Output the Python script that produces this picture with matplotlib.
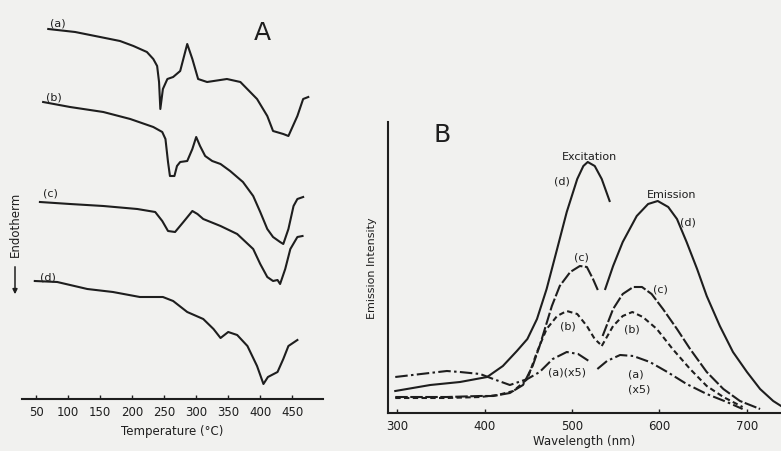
import matplotlib.pyplot as plt

# ---- panel A: DTA curves (temperature in C, signal in arbitrary units) ----
temp_a = [69, 111, 150, 181, 202, 223, 233, 239, 242, 244, 248, 255, 264, 275,
          286, 294, 303, 317, 348, 369, 395, 411, 420, 436, 444, 458, 467, 475]
dta_a = [370, 367, 362, 358, 353, 347, 340, 333, 317, 290, 310, 320, 322, 328,
         355, 340, 320, 317, 320, 317, 300, 283, 268, 265, 263, 283, 300, 302]

temp_b = [61, 103, 155, 197, 233, 247, 252, 256, 259, 266, 270, 275, 286, 294,
          300, 306, 314, 325, 338, 353, 373, 389, 400, 411, 420, 431, 436, 444,
          452, 458, 467]
dta_b = [297, 292, 287, 280, 272, 267, 260, 237, 223, 223, 233, 237, 238, 250,
         262, 253, 243, 238, 235, 228, 217, 203, 187, 170, 162, 157, 155, 170,
         193, 200, 202]

temp_c = [56, 103, 155, 208, 236, 247, 256, 267, 280, 294, 302, 311, 338, 364,
          389, 400, 411, 420, 427, 431, 439, 447, 458, 466]
dta_c = [197, 195, 193, 190, 187, 178, 168, 167, 177, 188, 185, 180, 173, 165,
         150, 135, 122, 118, 119, 115, 130, 150, 162, 163]

temp_d = [48, 83, 130, 170, 212, 248, 264, 286, 311, 327, 338, 350, 364, 380,
          395, 405, 412, 427, 436, 444, 458]
dta_d = [118, 117, 110, 107, 102, 102, 98, 87, 80, 70, 61, 67, 64, 53,
         33, 15, 22, 27, 40, 53, 59]

temp_ticks = [50, 100, 150, 200, 250, 300, 350, 400, 450]

# ---- panel B: excitation / emission spectra (wavelength nm, intensity a.u.) ----
exc_d_wl = [298, 338, 372, 403, 421, 437, 449, 460, 471, 483, 494, 506, 513,
            518, 526, 534, 543]
exc_d = [22, 28, 31, 36, 47, 62, 74, 94, 124, 164, 201, 234, 247,
         251, 247, 234, 212]

exc_c_wl = [298, 357, 395, 410, 429, 444, 455, 463, 477, 486, 498, 509, 517,
            524, 530]
exc_c = [16, 16, 17, 17, 20, 28, 47, 67, 107, 127, 141, 147, 146, 134, 122]

exc_b_wl = [298, 357, 395, 415, 433, 449, 460, 471, 483, 494, 506, 517, 526, 532]
exc_b = [15, 15, 16, 18, 22, 34, 61, 84, 97, 102, 99, 87, 74, 69]

exc_a_wl = [298, 357, 372, 395, 410, 429, 449, 463, 478, 494, 507, 521]
exc_a = [36, 42, 41, 39, 34, 28, 34, 41, 54, 61, 59, 51]

em_d_wl = [538, 547, 558, 574, 587, 598, 610, 620, 631, 643, 654, 669, 684,
           700, 715, 730, 739]
em_d = [124, 147, 171, 197, 209, 212, 206, 194, 171, 144, 117, 87, 61,
        41, 24, 12, 7]

em_c_wl = [535, 547, 558, 570, 580, 591, 604, 620, 635, 654, 673, 692, 715]
em_c = [77, 104, 119, 126, 126, 119, 104, 84, 64, 41, 24, 12, 4]

em_b_wl = [534, 547, 558, 569, 581, 597, 615, 635, 654, 673, 695]
em_b = [67, 87, 97, 101, 96, 84, 64, 44, 27, 16, 6]

em_a_wl = [529, 540, 555, 570, 589, 609, 631, 654, 677, 695]
em_a = [44, 52, 58, 57, 51, 41, 29, 19, 11, 4]

wl_ticks = [300, 400, 500, 600, 700]

ink = '#1e1e1e'
paper = '#f1f1ef'
lw = 1.5
styles = {'d': '-', 'c': (0, (6, 1.2)), 'b': (0, (2.6, 1.6)), 'a': (0, (6, 1.6, 1.2, 1.6))}

fig = plt.figure(figsize=(7.81, 4.52), dpi=100, facecolor=paper)

# ---------------- panel A ----------------
axA = fig.add_axes([22 / 781, 52 / 452, 301 / 781, 400 / 452])
axA.set_facecolor('none')
for T, y in [(temp_a, dta_a), (temp_b, dta_b), (temp_c, dta_c), (temp_d, dta_d)]:
    axA.plot(T, y, color=ink, lw=lw, solid_joinstyle='round')
axA.set_xlim(28, 498)
axA.set_ylim(0, 400)
for s in ['top', 'right', 'left']:
    axA.spines[s].set_visible(False)
axA.spines['bottom'].set_linewidth(1.5)
axA.spines['bottom'].set_color(ink)
axA.set_yticks([])
axA.set_xticks(temp_ticks)
axA.tick_params(axis='x', direction='in', length=3, width=1, colors=ink,
                labelsize=8.5, pad=4)
axA.set_xlabel('Temperature (°C)', fontsize=8.5, color=ink, labelpad=5)

axA.text(84, 377, '(a)', fontsize=8, color=ink, ha='center', va='center')
axA.text(77, 302, '(b)', fontsize=8, color=ink, ha='center', va='center')
axA.text(72, 207, '(c)', fontsize=8, color=ink, ha='center', va='center')
axA.text(69, 123, '(d)', fontsize=8, color=ink, ha='center', va='center')
axA.text(403, 367, 'A', fontsize=18, color=ink, ha='center', va='center')

fig.text(15 / 781, 1 - 224 / 452, 'Endotherm', rotation=90, fontsize=8.5,
         color=ink, ha='center', va='center')
axA.annotate('', xy=(15, 452 - 298), xytext=(15, 452 - 265),
             xycoords='figure pixels', textcoords='figure pixels',
             arrowprops=dict(arrowstyle='-|>', color=ink, lw=1.1,
                             mutation_scale=7))

# ---------------- panel B ----------------
axB = fig.add_axes([388 / 781, 38 / 452, 393 / 781, 291 / 452])
axB.set_facecolor('none')
axB.plot(exc_d_wl, exc_d, color=ink, lw=lw, linestyle=styles['d'])
axB.plot(exc_c_wl, exc_c, color=ink, lw=lw, linestyle=styles['c'])
axB.plot(exc_b_wl, exc_b, color=ink, lw=lw, linestyle=styles['b'])
axB.plot(exc_a_wl, exc_a, color=ink, lw=lw, linestyle=styles['a'])
axB.plot(em_d_wl, em_d, color=ink, lw=lw, linestyle=styles['d'])
axB.plot(em_c_wl, em_c, color=ink, lw=lw, linestyle=styles['c'])
axB.plot(em_b_wl, em_b, color=ink, lw=lw, linestyle=styles['b'])
axB.plot(em_a_wl, em_a, color=ink, lw=lw, linestyle=styles['a'])
axB.set_xlim(289.7, 738.9)
axB.set_ylim(0, 291)
for s in ['top', 'right']:
    axB.spines[s].set_visible(False)
for s in ['bottom', 'left']:
    axB.spines[s].set_linewidth(1.5)
    axB.spines[s].set_color(ink)
axB.set_yticks([])
axB.set_xticks(wl_ticks)
axB.tick_params(axis='x', direction='in', length=3, width=1, colors=ink,
                labelsize=8.5, pad=4)
axB.set_xlabel('Wavelength (nm)', fontsize=8.5, color=ink, labelpad=2)
axB.set_ylabel('Emission Intensity', fontsize=8, color=ink, labelpad=8)

axB.text(351, 279, 'B', fontsize=18, color=ink, ha='center', va='center')
axB.text(520, 257, 'Excitation', fontsize=8, color=ink, ha='center', va='center')
axB.text(614, 219, 'Emission', fontsize=8, color=ink, ha='center', va='center')
axB.text(489, 232, '(d)', fontsize=8, color=ink, ha='center', va='center')
axB.text(633, 191, '(d)', fontsize=8, color=ink, ha='center', va='center')
axB.text(511, 156, '(c)', fontsize=8, color=ink, ha='center', va='center')
axB.text(601, 125, '(c)', fontsize=8, color=ink, ha='center', va='center')
axB.text(495, 87, '(b)', fontsize=8, color=ink, ha='center', va='center')
axB.text(569, 84, '(b)', fontsize=8, color=ink, ha='center', va='center')
axB.text(494, 41, '(a)(x5)', fontsize=8, color=ink, ha='center', va='center')
axB.text(573, 39, '(a)', fontsize=8, color=ink, ha='center', va='center')
axB.text(577, 24, '(x5)', fontsize=8, color=ink, ha='center', va='center')

fig.savefig('out.png', dpi=100, facecolor=paper)
